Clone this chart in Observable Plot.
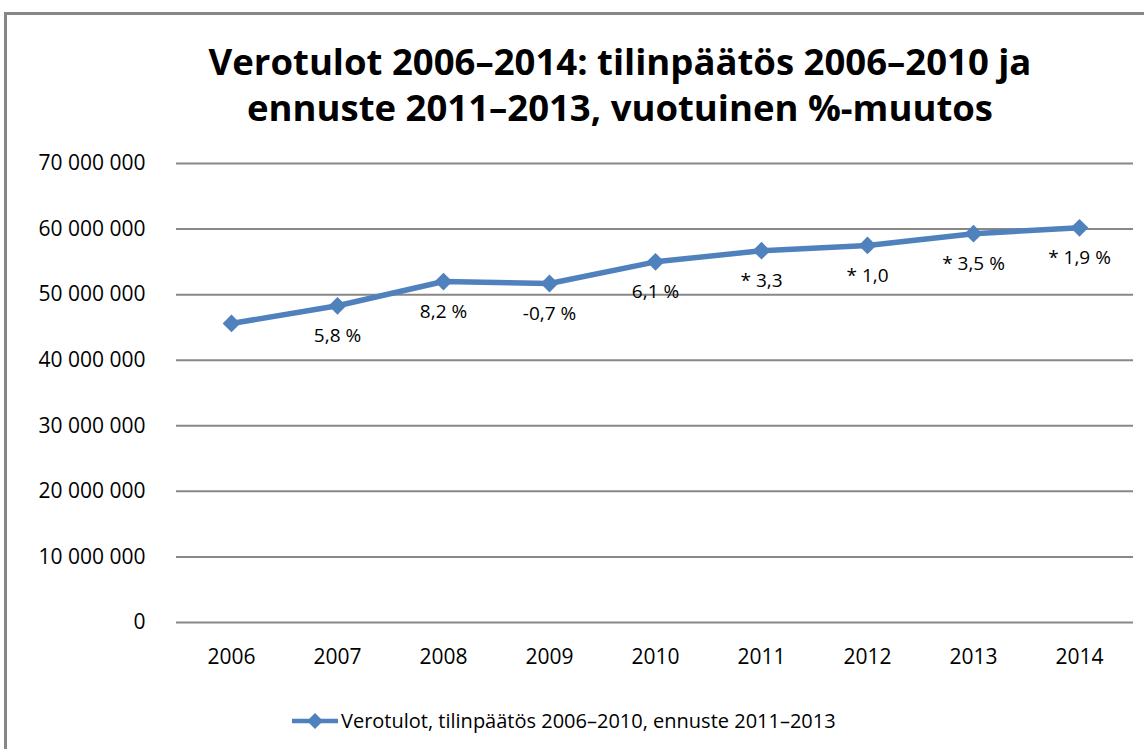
<!DOCTYPE html>
<html>
<head>
<meta charset="utf-8">
<script src="https://cdn.jsdelivr.net/npm/d3@7"></script>
<script src="https://cdn.jsdelivr.net/npm/@observablehq/plot@0.6"></script>
<style>
  html, body { margin: 0; padding: 0; background: #fff; overflow: hidden; }
  #wrap { position: relative; width: 1144px; height: 749px; font-family: "Open Sans", Lato, sans-serif; }
  #frame { position: absolute; left: 4px; top: 12px; width: 1160px; height: 760px; border: 3px solid #878787; box-sizing: border-box; }
  #title { position: absolute; left: 0; width: 1240px; top: 38px; text-align: center; font-weight: bold; font-size: 36.5px; line-height: 46px; color: #000; }
  #chart { position: absolute; left: 0; top: 140px; }
  #legend { position: absolute; left: 290px; top: 707px; font-size: 20px; display: flex; align-items: center; color: #000; }
</style>
</head>
<body>
<div id="wrap">
  <div id="frame"></div>
  <div id="title">Verotulot 2006–2014: tilinpäätös 2006–2010 ja<br>ennuste 2011–2013, vuotuinen %-muutos</div>
  <div id="chart"></div>
  <div id="legend"></div>
</div>
<script>
const years = ["2006","2007","2008","2009","2010","2011","2012","2013","2014"];
const values = [45600000, 48300000, 52000000, 51700000, 55000000, 56700000, 57500000, 59300000, 60200000];
const labels = ["", "5,8 %", "8,2 %", "-0,7 %", "6,1 %", "* 3,3", "* 1,0", "* 3,5 %", "* 1,9 %"];
const yTicks = [0, 10000000, 20000000, 30000000, 40000000, 50000000, 60000000, 70000000];
const seriesName = "Verotulot, tilinpäätös 2006–2010, ennuste 2011–2013";
const color = "#4F81BD";

const data = years.map((y, i) => ({year: y, value: values[i], label: labels[i]}));
const fmt = d => d3.format(",")(d).replace(/,/g, " ");

const plot = Plot.plot({
  width: 1144,
  height: 560,
  marginLeft: 176,
  marginRight: 11,
  marginTop: 23,
  marginBottom: 78,
  style: {fontFamily: "'Open Sans', Lato, sans-serif", fontSize: "21px", color: "#000", background: "transparent"},
  x: {type: "point", domain: years, padding: 0.5, label: null},
  y: {domain: [0, 70000000], label: null},
  marks: [
    Plot.gridY(yTicks, {stroke: "#888", strokeOpacity: 1, strokeWidth: 2}),
    Plot.axisY({ticks: yTicks, tickFormat: fmt, tickSize: 0, tickPadding: 31, fontSize: 21, label: null}),
    Plot.axisX({tickSize: 0, tickPadding: 27, fontSize: 21, label: null}),
    Plot.line(data, {x: "year", y: "value", stroke: color, strokeWidth: 5.5}),
    Plot.dot(data, {x: "year", y: "value", symbol: "diamond2", r: 8, fill: color, stroke: "none"}),
    Plot.text(data, {x: "year", y: "value", text: "label", dy: 30, fontSize: 19, fill: "#000"})
  ]
});
document.getElementById("chart").appendChild(plot);

const leg = document.getElementById("legend");
leg.innerHTML = `<svg width="50" height="22"><line x1="2" x2="48" y1="11" y2="11" stroke="${color}" stroke-width="4.5"/><path d="M25,3 L33,11 L25,19 L17,11 Z" fill="${color}"/></svg><span style="margin-left:1px">${seriesName}</span>`;
</script>
</body>
</html>
